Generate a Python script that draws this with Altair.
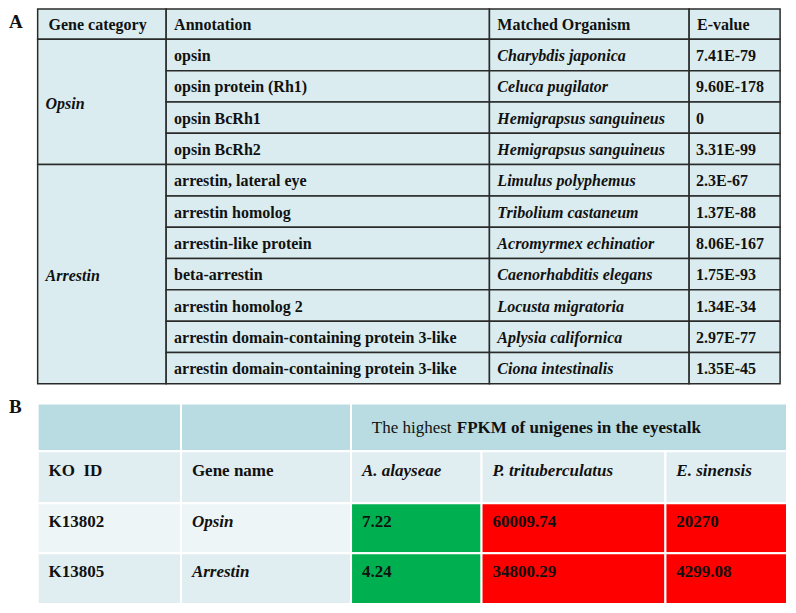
import altair as alt
import pandas as pd

# ---------------- data: panel A ----------------
header_a = ["Gene category", "Annotation", "Matched Organism", "E-value"]
categories = ["Opsin", "Arrestin"]
category_sizes = [4, 7]
annotations = [
    "opsin", "opsin protein (Rh1)", "opsin BcRh1", "opsin BcRh2",
    "arrestin, lateral eye", "arrestin homolog", "arrestin-like protein",
    "beta-arrestin", "arrestin homolog 2",
    "arrestin domain-containing protein 3-like",
    "arrestin domain-containing protein 3-like",
]
organisms = [
    "Charybdis japonica", "Celuca pugilator", "Hemigrapsus sanguineus",
    "Hemigrapsus sanguineus", "Limulus polyphemus", "Tribolium castaneum",
    "Acromyrmex echinatior", "Caenorhabditis elegans", "Locusta migratoria",
    "Aplysia californica", "Ciona intestinalis",
]
evalues = ["7.41E-79", "9.60E-178", "0", "3.31E-99", "2.3E-67", "1.37E-88",
           "8.06E-167", "1.75E-93", "1.34E-34", "2.97E-77", "1.35E-45"]

# ---------------- data: panel B ----------------
header_b = ["KO\u00a0 ID", "Gene name"]
group_title_light = "The highest"
group_title_bold = "FPKM of unigenes in the eyestalk"
species = ["A. alayseae", "P. trituberculatus", "E. sinensis"]
ko_ids = ["K13802", "K13805"]
gene_names = ["Opsin", "Arrestin"]
fpkm_a_alayseae = ["7.22", "4.24"]
fpkm_p_trituberculatus = ["60009.74", "34800.29"]
fpkm_e_sinensis = ["20270", "4299.08"]
fpkm = [fpkm_a_alayseae, fpkm_p_trituberculatus, fpkm_e_sinensis]
species_fill = ["#00B050", "#FF0000", "#FF0000"]

# ---------------- layout (reference pixel grid) ----------------
A_COLS = [34, 164, 491, 693, 785]
A_TOP, A_HEAD, A_ROW = 2, 33, 32
B_COLS = [34, 179, 351, 483, 669, 792]
B_ROWS = [405, 454, 507, 558, 610]
B_TEXT_Y = [430, 474, 526, 577]
FILL_A = "#DAECEF"
FILL_B_HEAD = "#B8DCE2"
FILL_B_MID = "#E1EEF1"
FILL_B_LIGHT = "#EEF5F7"

rects_a, rects_b = [], []
txt_a_bold, txt_a_ital = [], []
txt_b_bold, txt_b_ital, txt_b_norm = [], [], []

# panel A header
for j, h in enumerate(header_a):
    rects_a.append(dict(x=A_COLS[j], x2=A_COLS[j + 1], y=A_TOP, y2=A_HEAD, fill=FILL_A))
    txt_a_bold.append(dict(x=A_COLS[j] + (11 if j == 0 else 8), y=(A_TOP + A_HEAD) / 2 + 1, t=h))

# panel A merged category cells
start = A_HEAD
for name, n in zip(categories, category_sizes):
    end = start + n * A_ROW
    rects_a.append(dict(x=A_COLS[0], x2=A_COLS[1], y=start, y2=end, fill=FILL_A))
    txt_a_ital.append(dict(x=A_COLS[0] + 8, y=(start + end) / 2 + 2, t=name))
    start = end

# panel A body rows
for i in range(len(annotations)):
    y0 = A_HEAD + i * A_ROW
    for j in range(1, 4):
        rects_a.append(dict(x=A_COLS[j], x2=A_COLS[j + 1], y=y0, y2=y0 + A_ROW, fill=FILL_A))
    yc = y0 + A_ROW / 2 + 1
    txt_a_bold.append(dict(x=A_COLS[1] + 8, y=yc, t=annotations[i]))
    txt_a_ital.append(dict(x=A_COLS[2] + 8, y=yc, t=organisms[i]))
    txt_a_bold.append(dict(x=A_COLS[3] + 7, y=yc, t=evalues[i]))

# panel B header row 1
rects_b.append(dict(x=B_COLS[0], x2=B_COLS[1], y=B_ROWS[0], y2=B_ROWS[1], fill=FILL_B_HEAD))
rects_b.append(dict(x=B_COLS[1], x2=B_COLS[2], y=B_ROWS[0], y2=B_ROWS[1], fill=FILL_B_HEAD))
rects_b.append(dict(x=B_COLS[2], x2=B_COLS[5], y=B_ROWS[0], y2=B_ROWS[1], fill=FILL_B_HEAD))
txt_b_norm.append(dict(x=B_COLS[2] + 21, y=B_TEXT_Y[0], t=group_title_light))
txt_b_bold.append(dict(x=B_COLS[2] + 107, y=B_TEXT_Y[0], t=group_title_bold))

# panel B header row 2
for j in range(5):
    rects_b.append(dict(x=B_COLS[j], x2=B_COLS[j + 1], y=B_ROWS[1], y2=B_ROWS[2], fill=FILL_B_MID))
for j, h in enumerate(header_b):
    txt_b_bold.append(dict(x=B_COLS[j] + 11, y=B_TEXT_Y[1], t=h))
for k, s in enumerate(species):
    txt_b_ital.append(dict(x=B_COLS[k + 2] + 11, y=B_TEXT_Y[1], t=s))

# panel B body
for i in range(len(ko_ids)):
    r0, r1 = B_ROWS[i + 2], B_ROWS[i + 3]
    base = FILL_B_LIGHT if i == 0 else FILL_B_MID
    rects_b.append(dict(x=B_COLS[0], x2=B_COLS[1], y=r0, y2=r1, fill=base))
    rects_b.append(dict(x=B_COLS[1], x2=B_COLS[2], y=r0, y2=r1, fill=base))
    txt_b_bold.append(dict(x=B_COLS[0] + 11, y=B_TEXT_Y[i + 2], t=ko_ids[i]))
    txt_b_ital.append(dict(x=B_COLS[1] + 11, y=B_TEXT_Y[i + 2], t=gene_names[i]))
    for k in range(len(species)):
        rects_b.append(dict(x=B_COLS[k + 2], x2=B_COLS[k + 3], y=r0, y2=r1, fill=species_fill[k]))
        txt_b_bold.append(dict(x=B_COLS[k + 2] + 11, y=B_TEXT_Y[i + 2], t=fpkm[k][i]))

panel_labels = [dict(x=5, y=15, t="A"), dict(x=5, y=409, t="B")]

xs = alt.Scale(domain=[4, 793], nice=False, zero=False)
ys = alt.Scale(domain=[1, 611], nice=False, zero=False, reverse=True)
FONT = "Liberation Serif"


def rect_layer(rows, stroke, sw):
    return alt.Chart(pd.DataFrame(rows)).mark_rect(stroke=stroke, strokeWidth=sw).encode(
        x=alt.X("x:Q", scale=xs, axis=None),
        x2="x2:Q",
        y=alt.Y("y:Q", scale=ys, axis=None),
        y2="y2:Q",
        color=alt.Color("fill:N", scale=None),
    )


def text_layer(rows, size, weight, style):
    return alt.Chart(pd.DataFrame(rows)).mark_text(
        align="left", baseline="middle", font=FONT, fontSize=size,
        fontWeight=weight, fontStyle=style, color="#111111",
    ).encode(
        x=alt.X("x:Q", scale=xs, axis=None),
        y=alt.Y("y:Q", scale=ys, axis=None),
        text="t:N",
    )


chart = alt.layer(
    rect_layer(rects_a, "#2a2a2a", 1.5),
    rect_layer(rects_b, "#ffffff", 2),
    text_layer(txt_a_bold, 16, "bold", "normal"),
    text_layer(txt_a_ital, 16, "bold", "italic"),
    text_layer(txt_b_bold, 17, "bold", "normal"),
    text_layer(txt_b_ital, 17, "bold", "italic"),
    text_layer(txt_b_norm, 17, "normal", "normal"),
    text_layer(panel_labels, 19, "bold", "normal"),
).properties(
    width=780, height=597, padding=0,
    autosize=alt.AutoSizeParams(type="none"),
).configure_view(strokeWidth=0)

chart.save("out.html", embed_options={"renderer": "svg", "actions": False})
